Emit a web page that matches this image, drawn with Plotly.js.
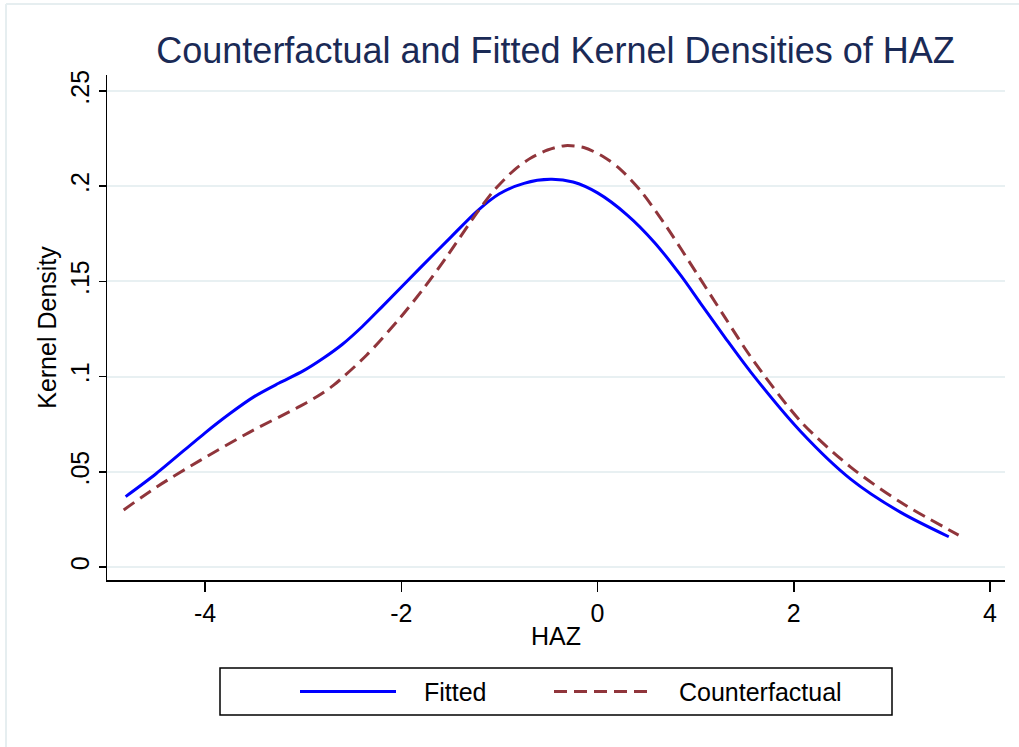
<!DOCTYPE html>
<html>
<head>
<meta charset="utf-8">
<script src="https://cdn.plot.ly/plotly-3.0.1.min.js"></script>
<style>html,body{margin:0;padding:0;background:#fff;}#chart{width:1019px;height:747px;}</style>
</head>
<body>
<div id="chart"></div>
<script>
// Data
const fittedX = [-4.81, -4.5, -4.0, -3.75, -3.5, -3.25, -3.0, -2.8, -2.6, -2.4, -2.2, -1.8, -1.5, -1.23, -1.0, -0.75, -0.48, -0.25, 0.0, 0.3, 0.58, 0.85, 1.05, 1.3, 1.56, 2.07, 2.58, 3.09, 3.58];
const fittedY = [0.037, 0.049, 0.0705, 0.0805, 0.0895, 0.0965, 0.103, 0.1095, 0.117, 0.1262, 0.1365, 0.1575, 0.173, 0.1868, 0.196, 0.2015, 0.2036, 0.2022, 0.1965, 0.185, 0.1705, 0.153, 0.1385, 0.1205, 0.1025, 0.0712, 0.0462, 0.0287, 0.0159];
const cfX = [-4.83, -4.49, -4.05, -3.54, -3.03, -2.85, -2.69, -2.35, -2.01, -1.77, -1.53, -1.23, -1.06, -0.85, -0.68, -0.51, -0.33, -0.14, 0.06, 0.23, 0.44, 0.68, 1.02, 1.3, 1.56, 2.07, 2.58, 3.09, 3.68];
const cfY = [0.030, 0.0422, 0.056, 0.071, 0.0845, 0.0898, 0.0955, 0.1115, 0.131, 0.1465, 0.1635, 0.186, 0.1975, 0.2085, 0.2148, 0.219, 0.2213, 0.2203, 0.2155, 0.209, 0.1975, 0.1805, 0.1535, 0.131, 0.1105, 0.0765, 0.0525, 0.034, 0.0168];
const xTicks = [-4, -2, 0, 2, 4];
const yTickVals = [0, 0.05, 0.1, 0.15, 0.2, 0.25];
const yTickText = ['0', '.05', '.1', '.15', '.2', '.25'];
const seriesNames = ['Fitted', 'Counterfactual'];

const FONT = 'Liberation Sans, Arial, sans-serif';
const BLUE = '#0000ff';
const RED = '#90353b';
const DASH = '13px,7px';

const traces = [
  {x: fittedX, y: fittedY, name: seriesNames[0], type: 'scatter', mode: 'lines',
   line: {color: BLUE, width: 3, shape: 'spline', smoothing: 0.8}, showlegend: false},
  {x: cfX, y: cfY, name: seriesNames[1], type: 'scatter', mode: 'lines',
   line: {color: RED, width: 3, dash: DASH, shape: 'spline', smoothing: 0.8}, showlegend: false}
];

// paper coordinate helpers (plot area: l=107, r=1005, t=75, b=580)
const L = 107, R = 1005, T = 75, B = 580;
const px = p => (p - L) / (R - L);
const py = q => (B - q) / (B - T);

const layout = {
  width: 1019, height: 747,
  margin: {l: L, r: 1019 - R, t: T, b: 747 - B, pad: 0},
  paper_bgcolor: '#ffffff', plot_bgcolor: '#ffffff',
  font: {family: FONT, color: '#000000', size: 25},
  title: {text: 'Counterfactual and Fitted Kernel Densities of HAZ',
          font: {family: FONT, size: 36, color: '#1a2a56'},
          x: px(555.5), xanchor: 'center', xref: 'paper', y: 1 - 50 / 747, yanchor: 'middle'},
  xaxis: {
    range: [-5.0, 4.153], tickvals: xTicks, ticktext: xTicks.map(String),
    showgrid: false, zeroline: false, showline: true, linecolor: '#000', linewidth: 1.5,
    ticks: 'outside', ticklen: 10, tickwidth: 1.5, tickcolor: '#000',
    tickfont: {family: FONT, size: 25, color: '#000'},
    title: {text: 'HAZ', font: {family: FONT, size: 25, color: '#000'}, standoff: 2},
    fixedrange: true
  },
  yaxis: {
    range: [-0.0068, 0.2584], tickvals: yTickVals, ticktext: yTickText, tickangle: -90,
    showgrid: true, gridcolor: '#e8f0f2', gridwidth: 2, zeroline: false,
    showline: true, linecolor: '#000', linewidth: 1.5,
    ticks: 'outside', ticklen: 7, tickwidth: 1.5, tickcolor: '#000',
    tickfont: {family: FONT, size: 25, color: '#000'},
    title: {text: 'Kernel Density', font: {family: FONT, size: 25, color: '#000'}, standoff: 2},
    fixedrange: true
  },
  showlegend: false,
  shapes: [
    // faint outer graph-region border (top and left)
    {type: 'line', xref: 'paper', yref: 'paper', x0: px(6), x1: px(1019), y0: py(4), y1: py(4), line: {color: '#e6eef0', width: 2}},
    {type: 'line', xref: 'paper', yref: 'paper', x0: px(6), x1: px(6), y0: py(4), y1: py(747), line: {color: '#e6eef0', width: 2}},
    // legend box
    {type: 'rect', xref: 'paper', yref: 'paper', x0: px(220), x1: px(892), y0: py(668), y1: py(715), line: {color: '#000', width: 1.5}, fillcolor: 'rgba(0,0,0,0)'},
    // legend samples
    {type: 'line', xref: 'paper', yref: 'paper', x0: px(300), x1: px(396), y0: py(691.5), y1: py(691.5), line: {color: BLUE, width: 3}},
    {type: 'line', xref: 'paper', yref: 'paper', x0: px(554), x1: px(651), y0: py(691.5), y1: py(691.5), line: {color: RED, width: 3, dash: DASH}}
  ],
  annotations: [
    {xref: 'paper', yref: 'paper', x: px(422), y: py(692), xanchor: 'left', yanchor: 'middle', showarrow: false,
     text: seriesNames[0], font: {family: FONT, size: 25, color: '#000'}},
    {xref: 'paper', yref: 'paper', x: px(677), y: py(692), xanchor: 'left', yanchor: 'middle', showarrow: false,
     text: seriesNames[1], font: {family: FONT, size: 25, color: '#000'}}
  ]
};

Plotly.newPlot('chart', traces, layout, {displayModeBar: false, staticPlot: true});
</script>
</body>
</html>
